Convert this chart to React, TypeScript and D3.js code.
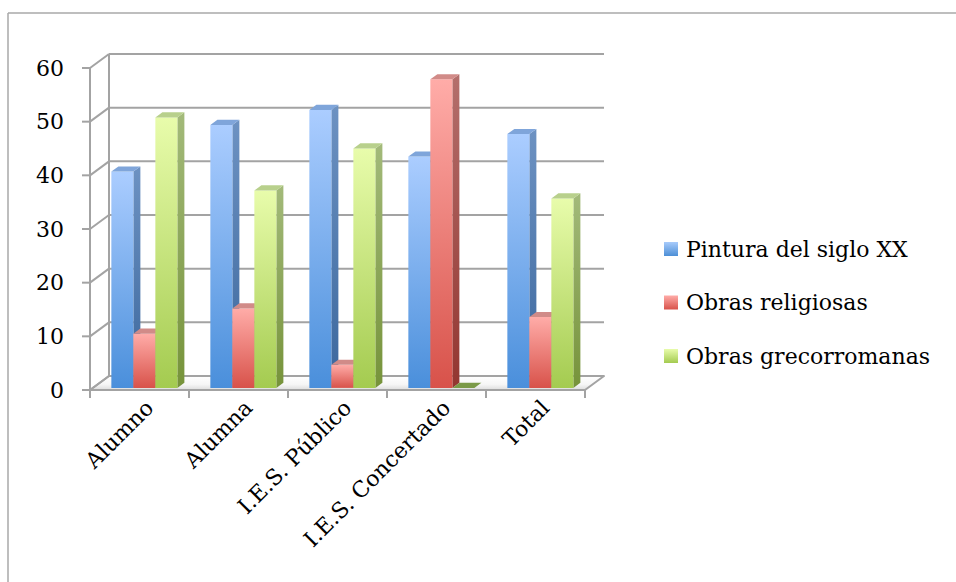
import React from "react";
import * as d3 from "d3";

const categories = ["Alumno", "Alumna", "I.E.S. Público", "I.E.S. Concertado", "Total"];
const seriesNames = ["Pintura del siglo XX", "Obras religiosas", "Obras grecorromanas"];
const pintura = [40.3, 49.0, 51.8, 43.1, 47.3];
const religiosas = [10.1, 14.8, 4.3, 57.5, 13.2];
const grecorromanas = [50.4, 36.8, 44.6, 0, 35.3];
const yTicks = [0, 10, 20, 30, 40, 50, 60];

const seriesValues = [pintura, religiosas, grecorromanas];

const palette = [
  { front: ["#abcdff", "#4a8fdb"], side: ["#6d92c2", "#3b679d"], top: "#7fa5da", legend: ["#a8cbfb", "#4d8fd6"] },
  { front: ["#ffaca8", "#d8524a"], side: ["#b46f6c", "#933630"], top: "#d18b88", legend: ["#ffaca8", "#d8524a"] },
  { front: ["#e8fcab", "#a4cb50"], side: ["#a3ba7a", "#76933a"], top: "#b8d08c", legend: ["#e8fcab", "#a4cb50"] },
];

const W = 956;
const H = 582;
const FONT = "'DejaVu Serif', serif";
const DX = 19;
const DY = -14;
const F0 = 0.15;
const F1 = 0.52;

export default function App() {
  const x = d3.scaleBand<string>().domain(categories).range([90, 585]).paddingInner(0).paddingOuter(0);
  const y = d3.scaleLinear().domain([0, 60]).range([390, 68]);
  const bw = x.bandwidth();
  const barW = (bw * 2) / 9;
  const groupOff = 18.5;
  const p = (px: number, py: number, f: number) => `${px + DX * f},${py + DY * f}`;
  const gridColor = "#a3a3a3";

  const bars: React.ReactNode[] = [];
  categories.forEach((c, i) => {
    seriesValues.forEach((vals, j) => {
      const v = vals[i];
      const xl = (x(c) as number) + groupOff + j * barW;
      const xr = xl + barW;
      const yt = y(v);
      const yb = y(0);
      const key = `${i}-${j}`;
      if (v > 0) {
        bars.push(
          <polygon key={key + "s"} points={[p(xr, yt, F0), p(xr, yt, F1), p(xr, yb, F1), p(xr, yb, F0)].join(" ")} fill={`url(#side${j})`} />
        );
        bars.push(
          <polygon key={key + "f"} points={[p(xl, yt, F0), p(xr, yt, F0), p(xr, yb, F0), p(xl, yb, F0)].join(" ")} fill={`url(#front${j})`} />
        );
      }
      bars.push(
        <polygon key={key + "t"} points={[p(xl, yt, F0), p(xr, yt, F0), p(xr, yt, F1), p(xl, yt, F1)].join(" ")} fill={v > 0 ? palette[j].top : "#7b9a48"} />
      );
    });
  });

  const x0 = 90;
  const x1 = 585;

  return (
    <svg width={W} height={H} style={{ position: "absolute", left: 0, top: 0, display: "block", background: "#fff" }}>
      <defs>
        {palette.map((pl, j) => (
          <React.Fragment key={j}>
            <linearGradient id={`front${j}`} x1="0" y1="0" x2="0" y2="1">
              <stop offset="0" stopColor={pl.front[0]} />
              <stop offset="1" stopColor={pl.front[1]} />
            </linearGradient>
            <linearGradient id={`side${j}`} x1="0" y1="0" x2="0" y2="1">
              <stop offset="0" stopColor={pl.side[0]} />
              <stop offset="1" stopColor={pl.side[1]} />
            </linearGradient>
            <linearGradient id={`leg${j}`} x1="0" y1="0" x2="0" y2="1">
              <stop offset="0" stopColor={pl.legend[0]} />
              <stop offset="1" stopColor={pl.legend[1]} />
            </linearGradient>
          </React.Fragment>
        ))}
        <linearGradient id="floorGrad" x1="0" y1="0" x2="0" y2="1">
          <stop offset="0" stopColor="#ffffff" />
          <stop offset="0.6" stopColor="#f6f6f6" />
          <stop offset="1" stopColor="#dcdcdc" />
        </linearGradient>
      </defs>

      {/* outer frame (top and left visible) */}
      <line x1={8} y1={13} x2={W} y2={13} stroke="#a8a8a8" strokeWidth={1.5} />
      <line x1={8} y1={13} x2={8} y2={H} stroke="#a8a8a8" strokeWidth={1.5} />

      {/* floor */}
      <polygon
        points={[p(x0, y(0), 0), p(x1, y(0), 0), p(x1, y(0), 1), p(x0, y(0), 1)].join(" ")}
        fill="url(#floorGrad)"
        stroke={gridColor}
        strokeWidth={2}
        strokeLinejoin="round"
      />

      {/* back wall gridlines and diagonals */}
      {yTicks.map((t) => (
        <g key={t}>
          {t > 0 && <line x1={x0 + DX} y1={y(t) + DY} x2={x1 + DX} y2={y(t) + DY} stroke={gridColor} strokeWidth={2} />}
          <line x1={x0} y1={y(t)} x2={x0 + DX} y2={y(t) + DY} stroke={gridColor} strokeWidth={2} />
          <line x1={x0 - 8} y1={y(t)} x2={x0} y2={y(t)} stroke={gridColor} strokeWidth={2} />
          <text x={64} y={y(t)} textAnchor="end" dominantBaseline="central" fontFamily={FONT} fontSize={22} fill="#000">
            {t}
          </text>
        </g>
      ))}
      <line x1={x0 + DX} y1={y(0) + DY} x2={x0 + DX} y2={y(60) + DY} stroke={gridColor} strokeWidth={2} />
      <line x1={x0} y1={y(0)} x2={x0} y2={y(60)} stroke={gridColor} strokeWidth={2} />

      {/* x axis ticks */}
      {[...categories.map((c) => x(c) as number), x1].map((tx, k) => (
        <line key={k} x1={tx} y1={y(0)} x2={tx} y2={y(0) + 8} stroke={gridColor} strokeWidth={2} />
      ))}

      {bars}

      {/* x labels */}
      {categories.map((c) => {
        const cx = (x(c) as number) + bw / 2;
        return (
          <text
            key={c}
            transform={`translate(${cx + 10},${404}) rotate(-45)`}
            textAnchor="end"
            dominantBaseline="central"
            fontFamily={FONT}
            fontSize={22}
            fill="#000"
          >
            {c}
          </text>
        );
      })}

      {/* legend */}
      {seriesNames.map((s, j) => {
        const cy = 249 + j * 53.5;
        return (
          <g key={s}>
            <rect x={664} y={cy - 7} width={14} height={14} fill={`url(#leg${j})`} />
            <text x={686} y={cy} dominantBaseline="central" fontFamily={FONT} fontSize={22} fill="#000">
              {s}
            </text>
          </g>
        );
      })}
    </svg>
  );
}
